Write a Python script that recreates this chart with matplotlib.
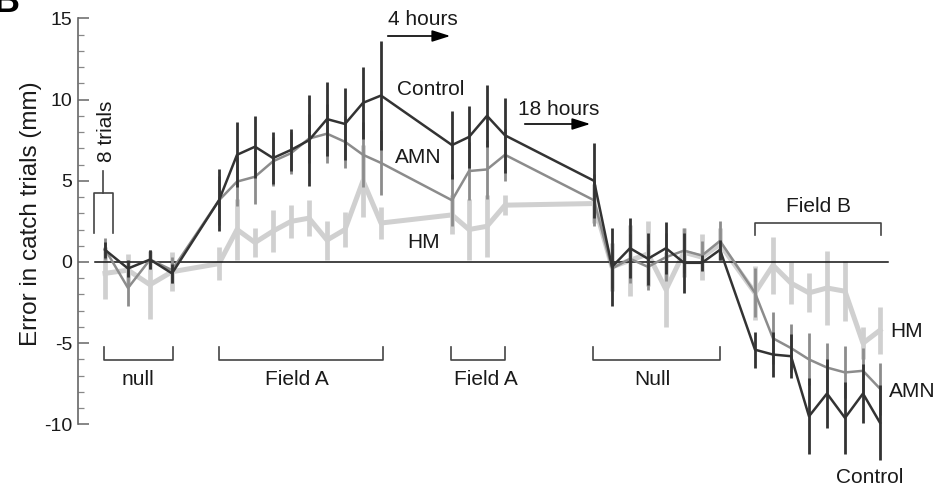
import matplotlib
matplotlib.use("Agg")
import matplotlib.pyplot as plt

plt.rcParams['font.family'] = ['Liberation Sans', 'DejaVu Sans']

# block positions
x_pos = [105, 128, 150, 172,
         219, 237, 255, 273, 291, 309, 327, 345, 363, 381,
         452, 469, 487, 505,
         594,
         612, 630, 648, 666, 684, 702, 720,
         755, 773, 791, 809, 827, 845, 863, 880]

control = [0.75, -0.4, 0.15, -0.7,
           3.8, 6.6, 7.1, 6.4, 6.9, 7.5, 8.8, 8.5, 9.8, 10.25,
           7.2, 7.7, 9.0, 7.8,
           5.0,
           -0.3, 0.85, 0.2, 0.85, -0.05, -0.05, 0.75,
           -5.4, -5.7, -5.8, -9.5, -8.1, -9.6, -8.1, -9.9]
control_err = [0.5, 0.5, 0.6, 0.6,
               1.9, 2.0, 1.9, 1.6, 1.3, 2.8, 2.3, 2.2, 2.2, 3.35,
               2.1, 1.9, 1.9, 2.3,
               2.3,
               2.4, 1.85, 1.6, 1.6, 1.85, 0.5, 0.6,
               1.1, 1.4, 1.35, 2.35, 2.1, 2.2, 1.8, 2.3]

amn = [0.8, -1.6, 0.15, -0.5,
       3.8, 4.95, 5.25, 6.2, 6.7, 7.6, 7.9, 7.4, 6.6, 6.1,
       3.8, 5.6, 5.7, 6.6,
       3.8,
       -0.4, 0.2, -0.3, 0.3, 0.7, 0.4, 1.3,
       -1.9, -4.7, -5.3, -6.0, -6.5, -6.8, -6.7, -7.8]
amn_err = [0.7, 1.1, 0.6, 0.8,
           1.5, 1.5, 1.7, 1.5, 1.3, 1.5, 1.8, 1.6, 2.0, 2.0,
           1.6, 1.8, 1.8, 1.6,
           1.6,
           1.2, 1.5, 1.4, 1.5, 1.4, 0.9, 1.2,
           1.5, 1.6, 1.5, 1.6, 1.5, 1.6, 1.4, 1.6]

hm = [-0.7, -0.5, -1.4, -0.6,
      -0.1, 2.0, 1.2, 1.9, 2.5, 2.7, 1.35, 2.0, 5.0, 2.4,
      2.9, 2.0, 2.2, 3.5,
      3.6,
      -0.3, 0.1, 0.5, -1.7, 0.6, 0.3, 1.1,
      -1.9, -0.2, -1.3, -1.9, -1.6, -1.8, -5.0, -4.2]
hm_err = [1.6, 1.0, 2.1, 1.2,
          1.0, 1.85, 0.9, 1.3, 1.0, 1.1, 1.2, 1.1, 2.2, 1.0,
          1.2, 1.9, 1.9, 0.6,
          1.2,
          1.5, 2.2, 2.0, 2.3, 1.5, 1.4, 1.0,
          1.65, 1.75, 1.3, 1.2, 2.25, 1.85, 1.0, 1.45]

y_ticks = [-10, -5, 0, 5, 10, 15]
y_ticklabels = ['-10', '-5', '0', '5', '10', '15']

# brackets: (x_start, x_end, label, label centre)
lower_brackets = [(104, 173, 'null', 138),
                  (219, 383, 'Field A', 297),
                  (451, 505, 'Field A', 486),
                  (593, 720, 'Null', 652)]

C_CTRL = '#333333'
C_AMN = '#8c8c8c'
C_HM = '#d0d0d0'
C_TXT = '#1a1a1a'
C_BR = '#444444'

W, H = 943, 493
fig = plt.figure(figsize=(W / 100, H / 100), dpi=100)
ax = fig.add_axes([0, 0, 1, 1])
ppu = 16.24
y0px = 262
ax.set_xlim(0, W)
ax.set_ylim((y0px - H) / ppu, y0px / ppu)
ax.patch.set_alpha(0)

for s in ['top', 'right', 'bottom']:
    ax.spines[s].set_visible(False)
ax.spines['left'].set_position(('data', 78))
ax.spines['left'].set_bounds(-10, 15)
ax.spines['left'].set_color('#666666')
ax.spines['left'].set_linewidth(1.2)
ax.set_xticks([])
ax.set_yticks(y_ticks)
ax.set_yticklabels(y_ticklabels)
ax.set_yticks(range(-10, 16), minor=True)
ax.tick_params(axis='y', which='major', direction='in', length=8, width=1.1,
               color='#666666', labelsize=14, labelcolor=C_TXT, pad=4)
ax.tick_params(axis='y', which='minor', direction='in', length=4, width=0.9,
               color='#888888')
ax.set_ylabel('Error in catch trials (mm)', fontsize=17.5, color=C_TXT)
ax.yaxis.set_label_coords(42 / W, 1 - 214 / H)

# HM
ax.errorbar(x_pos, hm, yerr=hm_err, color=C_HM, lw=3.6, elinewidth=3.4,
            capsize=0, zorder=2)
# zero line
ax.plot([95, 888], [0, 0], color='#111111', lw=1.1, zorder=2.5)
# AMN
ax.errorbar(x_pos, amn, yerr=amn_err, color=C_AMN, lw=1.8, elinewidth=2.0,
            capsize=0, zorder=3)
# Control
ax.errorbar(x_pos, control, yerr=control_err, color=C_CTRL, lw=1.8,
            elinewidth=2.0, capsize=0, zorder=4)

# lower brackets
top_b = (y0px - 347) / ppu
bot_b = (y0px - 360) / ppu
base_lbl = (y0px - 385) / ppu
for xa, xb, lbl, xc in lower_brackets:
    ax.plot([xa, xa, xb, xb], [top_b, bot_b, bot_b, top_b], color=C_BR, lw=1.2,
            zorder=1)
    ax.text(xc, base_lbl, lbl, fontsize=15, color=C_TXT, ha='center',
            va='baseline')

# Field B bracket
fb_top = (y0px - 223) / ppu
fb_bot = (y0px - 235) / ppu
ax.plot([755, 755, 881, 881], [fb_bot, fb_top, fb_top, fb_bot], color=C_BR,
        lw=1.2)
ax.text(818, (y0px - 212) / ppu, 'Field B', fontsize=15, color=C_TXT,
        ha='center', va='baseline')

# 8 trials bracket
b8_top = (y0px - 193) / ppu
b8_bot = (y0px - 233) / ppu
ax.plot([94, 94, 113, 113], [b8_bot, b8_top, b8_top, b8_bot], color=C_BR, lw=1.2)
ax.plot([103, 103], [b8_top, (y0px - 171) / ppu], color=C_BR, lw=1.2)
ax.text(106, (y0px - 131) / ppu, '8 trials', fontsize=15, color=C_TXT,
        rotation=90, ha='center', va='center')

# time arrows
ax.text(388, (y0px - 25) / ppu, '4 hours', fontsize=15, color=C_TXT,
        ha='left', va='baseline')
ax.annotate('', xy=(453, (y0px - 36) / ppu), xytext=(385, (y0px - 36) / ppu),
            arrowprops=dict(arrowstyle='-|>,head_length=1.1,head_width=0.35',
                            color='black', lw=1.2))
ax.text(518, (y0px - 115) / ppu, '18 hours', fontsize=15, color=C_TXT,
        ha='left', va='baseline')
ax.annotate('', xy=(593, (y0px - 124) / ppu), xytext=(522, (y0px - 124) / ppu),
            arrowprops=dict(arrowstyle='-|>,head_length=1.1,head_width=0.35',
                            color='black', lw=1.2))

# series labels
ax.text(397, (y0px - 95) / ppu, 'Control', fontsize=15, color=C_TXT,
        ha='left', va='baseline')
ax.text(395, (y0px - 163) / ppu, 'AMN', fontsize=15, color=C_TXT,
        ha='left', va='baseline')
ax.text(407, (y0px - 248) / ppu, 'HM', fontsize=15, color=C_TXT,
        ha='left', va='baseline')
ax.text(890, (y0px - 337) / ppu, 'HM', fontsize=15, color=C_TXT,
        ha='left', va='baseline')
ax.text(889, (y0px - 397) / ppu, 'AMN', fontsize=15, color=C_TXT,
        ha='left', va='baseline')
ax.text(836, (y0px - 483) / ppu, 'Control', fontsize=15, color=C_TXT,
        ha='left', va='baseline')

# panel letter (cropped at the top edge, as in the source)
fig.text(-6 / W, 1 - 12 / H, 'B', fontsize=26, fontweight='bold',
         color='black', ha='left', va='baseline')

fig.savefig('out.png', dpi=100)
